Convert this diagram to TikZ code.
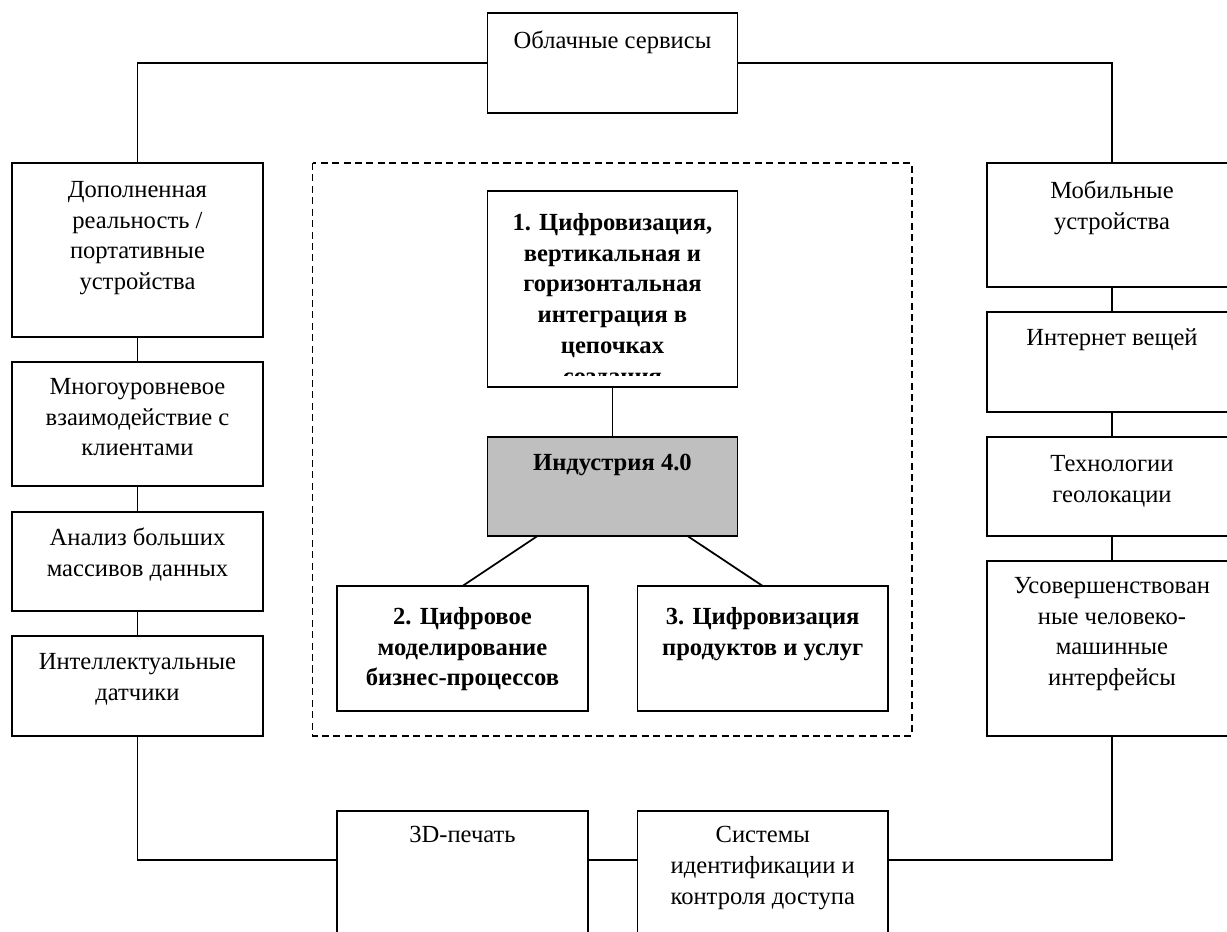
\documentclass[tikz,border=0pt]{standalone}
\usepackage{fontspec}
\setmainfont{Liberation Serif}
\usetikzlibrary{calc}
\tikzset{
  box/.style={draw, line width=1pt, inner sep=0pt, outer sep=0pt, anchor=north west},
  grey/.style={box, fill=black!25},
  txt/.style={anchor=north, align=center, inner sep=0pt, font=\fontsize{14}{17.5}\selectfont},
  btxt/.style={txt, font=\fontsize{14}{17.5}\selectfont\bfseries},
  link/.style={line width=1pt},
  frame/.style={line width=0.9pt, dash pattern=on 4pt off 2.5pt},
}

\begin{document}
\begin{tikzpicture}[x=0.02cm, y=-0.02cm]
		%%%%% START %%%%%
		\clip (0, 0) rectangle (1227, 932);
		
		% dashed frame round the core
		\draw[frame] (312.5, 163) rectangle (912, 736);
		
		% outer ring, left column
		\node[box, minimum width=5.02cm, minimum height=3.48cm] (ar) at (12, 163) {};
		\node[box, minimum width=5.02cm, minimum height=2.48cm] (multi) at (12, 362) {};
		\node[box, minimum width=5.02cm, minimum height=1.98cm] (big) at (12, 512) {};
		\node[box, minimum width=5.02cm, minimum height=2cm] (sens) at (12, 636) {};
		
		% outer ring, right column
		\node[box, minimum width=5cm, minimum height=2.48cm] (mob) at (987, 163) {};
		\node[box, minimum width=5cm, minimum height=2cm] (iot) at (987, 312) {};
		\node[box, minimum width=5cm, minimum height=1.98cm] (geo) at (987, 437) {};
		\node[box, minimum width=5cm, minimum height=3.5cm] (hmi) at (987, 561) {};
		
		% top and bottom
		\node[box, minimum width=5cm, minimum height=2cm] (cloud) at (487.5, 13) {};
		\node[box, minimum width=5.02cm, minimum height=2.5cm] (print) at (337, 811) {};
		\node[box, minimum width=5.01cm, minimum height=2.5cm] (ids) at (637.5, 811) {};
		
		% core
		\node[box, minimum width=5cm, minimum height=3.92cm] (dig1) at (487.5, 191) {};
		\node[grey, minimum width=5cm, minimum height=1.98cm] (ind) at (487.5, 437) {};
		\node[box, minimum width=5.02cm, minimum height=2.5cm] (dig2) at (337, 586) {};
		\node[box, minimum width=5.01cm, minimum height=2.5cm] (dig3) at (637.5, 586) {};
		
		% texts
		\node[txt] (cloudt) at ($(cloud.north)+(0, 18)$) {Облачные сервисы};
		\node[txt] (art) at ($(ar.north)+(0, 18)$) {Дополненная\\реальность /\\портативные\\устройства};
		\node[txt] (multit) at ($(multi.north)+(0, 16)$) {Многоуровневое\\взаимодействие с\\клиентами};
		\node[txt] (bigt) at ($(big.north)+(0, 16)$) {Анализ больших\\массивов данных};
		\node[txt] (senst) at ($(sens.north)+(0, 17)$) {Интеллектуальные\\датчики};
		\node[txt] (mobt) at ($(mob.north)+(0, 18)$) {Мобильные\\устройства};
		\node[txt] (iott) at ($(iot.north)+(0, 16)$) {Интернет вещей};
		\node[txt] (geot) at ($(geo.north)+(0, 18)$) {Технологии\\геолокации};
		\node[txt] (hmit) at ($(hmi.north)+(0, 16)$) {Усовершенствован\\ные человеко-\\машинные\\интерфейсы};
		\node[txt] (printt) at ($(print.north)+(0, 15)$) {3D-печать};
		\node[txt] (idst) at ($(ids.north)+(0, 15)$) {Системы\\идентификации и\\контроля доступа};
		
		\begin{scope}
			\clip (dig1.north west) rectangle ($(dig1.south east)+(0, -11)$);
			\node[btxt] (dig1t) at ($(dig1.north)+(0, 22)$) {1. Цифровизация,\\вертикальная и\\горизонтальная\\интеграция в\\цепочках\\создания};
		\end{scope}
		\node[btxt] (indt) at ($(ind.north)+(0, 17)$) {Индустрия 4.0};
		\node[btxt] (dig2t) at ($(dig2.north)+(0, 21)$) {2. Цифровое\\моделирование\\бизнес-процессов};
		\node[btxt] (dig3t) at ($(dig3.north)+(0, 21)$) {3. Цифровизация\\продуктов и услуг};
		
		% links
		\draw[link] (cloud.west) -| (ar.north);
		\draw[link] (cloud.east) -| (mob.north);
		\draw[link] (ar) -- (multi);
		\draw[link] (multi) -- (big);
		\draw[link] (big) -- (sens);
		\draw[link] (mob) -- (iot);
		\draw[link] (iot) -- (geo);
		\draw[link] (geo) -- (hmi);
		\draw[link] (sens.south) |- ($(print.north west)!0.392!(print.south west)$);
		\draw[link] ($(print.north east)!0.392!(print.south east)$) -- ($(ids.north west)!0.392!(ids.south west)$);
		\draw[link] ($(ids.north east)!0.392!(ids.south east)$) -| (hmi.south);
		\draw[link] (dig1) -- (ind);
		\draw[link] ($(ind.south west)!0.2!(ind.south east)$) -- (dig2.north);
		\draw[link] ($(ind.south west)!0.8!(ind.south east)$) -- (dig3.north);
		
		%%%%% END %%%%%
\end{tikzpicture}
\end{document}
